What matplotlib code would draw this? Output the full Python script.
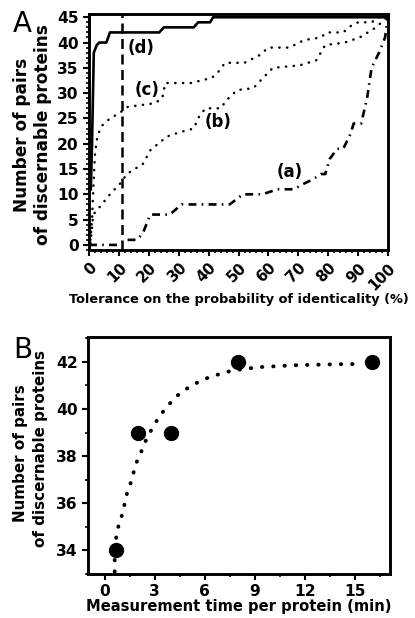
import numpy as np
import matplotlib
matplotlib.use("Agg")
import matplotlib.pyplot as plt
from matplotlib.ticker import MultipleLocator

# panel A: tolerance (%) vs number of discernable pairs
a_x = [0, 10, 12.5, 16, 18, 20.5, 27, 31, 47, 51.5, 58, 63, 68.5, 71.5, 75, 77.5, 79, 80.5, 83,
       85, 87.5, 88.5, 91, 93, 94.5, 97, 99, 99.7, 100]
a_y = [0, 0, 1, 1, 2.3, 6, 6, 8, 8, 10, 10, 11, 11, 12, 13, 14, 14, 17, 19,
       19, 22, 24, 24, 29, 35, 38, 41, 44, 45]

b_x = [0.5, 1.4, 3.7, 7, 11, 12.6, 18, 20.5, 26, 30.5, 35, 37, 39, 44, 46, 49.5, 55, 58.5, 61.5,
       70.5, 76, 79, 85.5, 90.5, 96, 99.6, 100]
b_y = [0.3, 6, 7.6, 10, 12.5, 14, 16, 18.7, 21.4, 22.3, 23, 25.6, 27, 27, 28.6, 30.6, 31, 33.2, 35,
       35.5, 36.5, 39.5, 40, 41, 43, 45, 45]

c_x = [0.5, 1, 1.5, 2, 2.8, 4.2, 7, 10, 13, 22, 24.5, 25.5, 34, 41, 43, 45.5, 52, 57, 60, 67,
       72, 77.5, 79.5, 85, 88, 90, 94.5, 97, 100]
c_y = [1, 5, 12, 18, 21.5, 23.5, 25, 26, 27.3, 28, 29, 32, 32, 33, 34, 36, 36, 37.5, 39, 39,
       40.5, 41, 42, 42, 43.5, 44, 44, 45, 45]

d_x = [0.6, 1.0, 1.6, 2.6, 3.4, 5.8, 7, 23.5, 25, 35, 36.5, 40.5, 41.5, 100]
d_y = [11, 20, 38, 39.5, 40, 40, 42, 42, 43, 43, 44, 44, 45, 45]

tol_cut = 11

curve_labels = ['(a)', '(b)', '(c)', '(d)']
label_x = [67, 43, 19.5, 17.5]
label_y = [14.5, 24.3, 30.6, 39]

# panel B: measurement time vs pairs
t_min = [0.67, 2, 4, 8, 16]
n_pairs = [34, 39, 39, 42, 42]

fit_t = [0.6, 0.6, 0.68, 0.8, 1.0, 1.17, 1.33, 1.55, 1.73, 1.93, 2.2, 2.49, 2.85, 3.25, 3.73,
         4.36, 5.0, 5.66, 6.35, 7.0, 7.67, 8.37, 9.04, 9.68, 10.34, 11.0, 11.69, 12.36,
         13.0, 13.7, 14.4, 15.0]
fit_n = [33.1, 33.6, 34.5, 34.97, 35.4, 35.9, 36.4, 36.84, 37.3, 37.77, 38.2, 38.7, 39.18,
         39.65, 40.1, 40.57, 40.9, 41.16, 41.37, 41.5, 41.63, 41.69, 41.76, 41.79, 41.81,
         41.84, 41.86, 41.87, 41.88, 41.89, 41.9, 41.9]

ylab_lines = ['Number of pairs', 'of discernable proteins']

plt.rcParams['font.family'] = ['DejaVu Sans']

fig = plt.figure(figsize=(4.15, 6.18), dpi=100)
axA = fig.add_axes([0.2145, 0.5955, 0.7205, 0.3815])
axB = fig.add_axes([0.212, 0.0712, 0.728, 0.3835])

tick_fs = 11.2
for ax in (axA, axB):
    for s in ax.spines.values():
        s.set_linewidth(2.1)
    ax.tick_params(which='major', direction='out', width=1.5, length=4)
    ax.tick_params(which='minor', direction='out', width=1.2, length=2.5)

# ---- A ----
axA.plot(a_x, a_y, color='black', lw=1.9, ls=(0, (3, 2, 0.6, 2)))
axA.plot(b_x, b_y, color='black', lw=1.8, ls=(0, (0.1, 3.0)), dash_capstyle='round')
axA.plot(c_x, c_y, color='black', lw=1.8, ls=(0, (0.1, 3.0)), dash_capstyle='round')
axA.plot(d_x, d_y, color='black', lw=1.9)
axA.axvline(tol_cut, color='black', lw=1.8, ls=(0, (4, 2.2)))
for lab, lx, ly in zip(curve_labels, label_x, label_y):
    axA.text(lx, ly, lab, fontsize=12, fontweight='bold', ha='center', va='center')

axA.set_xlim(0, 100)
axA.set_ylim(-1, 45.6)
axA.xaxis.set_minor_locator(MultipleLocator(2))
axA.yaxis.set_minor_locator(MultipleLocator(1))
axA.set_yticks(np.arange(0, 46, 5))
axA.set_yticklabels([str(v) for v in range(0, 46, 5)], fontweight='bold', fontsize=tick_fs)
axA.set_xticks(np.arange(0, 101, 10))
axA.set_xticklabels([str(v) for v in range(0, 101, 10)], rotation=45, ha='right',
                    rotation_mode='anchor', fontweight='bold', fontsize=10.6)
axA.set_xlabel('Tolerance on the probability of identicality (%)', fontsize=9.3,
               fontweight='bold', labelpad=0)
axA.text(-0.224, 0.49, ylab_lines[0], transform=axA.transAxes, rotation=90,
         fontsize=12.2, fontweight='bold', ha='center', va='center')
axA.text(-0.155, 0.49, ylab_lines[1], transform=axA.transAxes, rotation=90,
         fontsize=12.2, fontweight='bold', ha='center', va='center')

# ---- B ----
axB.plot(fit_t, fit_n, color='black', lw=2.8, ls=(0, (0.1, 2.8)), dash_capstyle='round')
axB.plot(t_min, n_pairs, 'o', color='black', ms=10)
axB.set_xlim(-1, 17.1)
axB.set_ylim(33, 43.05)
axB.set_xticks([0, 3, 6, 9, 12, 15])
axB.set_xticklabels(['0', '3', '6', '9', '12', '15'], fontweight='bold', fontsize=tick_fs)
axB.xaxis.set_minor_locator(MultipleLocator(1.5))
axB.set_yticks([34, 36, 38, 40, 42])
axB.set_yticklabels(['34', '36', '38', '40', '42'], fontweight='bold', fontsize=tick_fs)
axB.yaxis.set_minor_locator(MultipleLocator(1))
axB.set_xlabel('Measurement time per protein (min)', fontsize=10.6, fontweight='bold',
               labelpad=0)
axB.text(-0.225, 0.51, ylab_lines[0], transform=axB.transAxes, rotation=90,
         fontsize=10.9, fontweight='bold', ha='center', va='center')
axB.text(-0.156, 0.53, ylab_lines[1], transform=axB.transAxes, rotation=90,
         fontsize=10.9, fontweight='bold', ha='center', va='center')

fig.text(0.031, 0.948, 'A', fontsize=20, va='baseline')
fig.text(0.031, 0.4207, 'B', fontsize=20, va='baseline')

fig.savefig('out.png', dpi=100)
